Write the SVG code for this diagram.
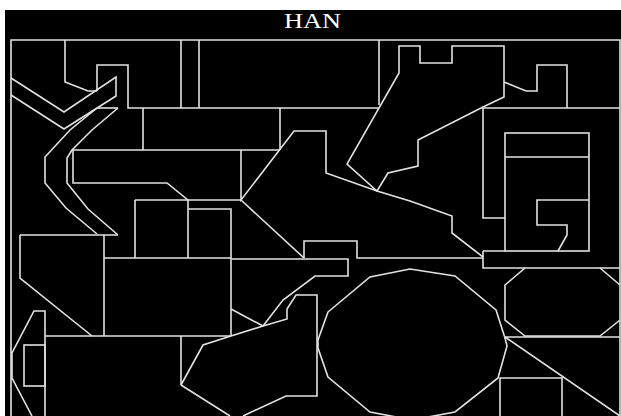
<svg xmlns="http://www.w3.org/2000/svg" width="621" height="416" viewBox="0 0 621 416">
<style>
.l{fill:none;stroke:#e2e2e2;stroke-width:1.6;stroke-linejoin:miter}
.t{font-family:"Liberation Serif","Times New Roman",serif;font-size:22px;fill:#ffffff}
</style>
<rect x="0" y="0" width="621" height="416" fill="#ffffff"/>
<rect x="5" y="10" width="616" height="406" fill="#000000"/>
<text class="t" x="284" y="28" textLength="57" lengthAdjust="spacingAndGlyphs">HAN</text>
<g id="map">
<path class="l" d="M11,416 V40 H620 V416"/>
<path class="l" d="M65,40 V82 L88,91 H97 M97,91 V65 H128 V108 H379"/>
<path class="l" d="M181,40 V108 M199,40 V108 M379,40 V105"/>
<path class="l" d="M11,78 L64,112 L116,77 V96 L64,129 L11,95"/>
<path class="l" d="M97,108 H118"/>
<path class="l" d="M97,108 L70,130 L45,157 V183 L66,208 L97,234"/>
<path class="l" d="M118,108 L92,130 L72,150 L67,158 V183 L88,209 L118,235"/>
<path class="l" d="M20,235 H118 M104,235 V336 M20,235 V278 L92,336"/>
<path class="l" d="M143,108 V150"/>
<path class="l" d="M280,150 H73 V183 H167 L188,200 H241 M188,209 H231 V336"/>
<path class="l" d="M135,200 H188 V258 M135,200 V258 M104,258 H231"/>
<path class="l" d="M241,150 V200 L294,131 H326 V173 L377,191 L410,201 L452,216 V233 L483,257"/>
<path class="l" d="M280,108 V150"/>
<path class="l" d="M241,200 L304,258"/>
<path class="l" d="M232,259 H348 V276 H315 L283,300 L263,326"/>
<path class="l" d="M304,258 V241 H357 V258 H483"/>
<path class="l" d="M231,309 L263,326"/>
<path class="l" d="M181,385 L203,345 L231,336 L263,326 L287,319 V309 L296,295 H317 V396 H286 L243,416 M181,385 L230,416"/>
<path class="l" d="M45,336 H231 M181,336 V385"/>
<path class="l" d="M45,416 V311 H34 L12,353 V378 L32,416"/>
<rect class="l" x="24" y="345" width="21" height="41"/>
<path class="l" d="M399,46 V73 L347,164 L377,191 L388,173 L418,166 V140 L483,107 L504,97 V46 H452 V63 H420 V46 Z"/>
<path class="l" d="M504,82 L526,91 H537 V65 H567 V108 M483,108 H620 M483,108 V218 H505"/>
<rect class="l" x="505" y="133" width="84" height="118"/>
<path class="l" d="M505,157 H589 M589,200 H537 V225 H567 V235 L558,251"/>
<path class="l" d="M483,251 H505 M483,251 V268 H620"/>
<path class="l" d="M328,312 L370,277 L410,269 L455,276 L496,310 L505,338 L507,346 L498,378 L455,412 L412,420 L370,412 L328,377 L318,348 L318,340 Z"/>
<path class="l" d="M525,268 L505,285 V320 L525,336 H600 L620,320 M600,268 L620,285"/>
<path class="l" d="M505,337 H620 M505,337 L620,416 M500,416 V378 H562 V416"/>
</g>
</svg>
